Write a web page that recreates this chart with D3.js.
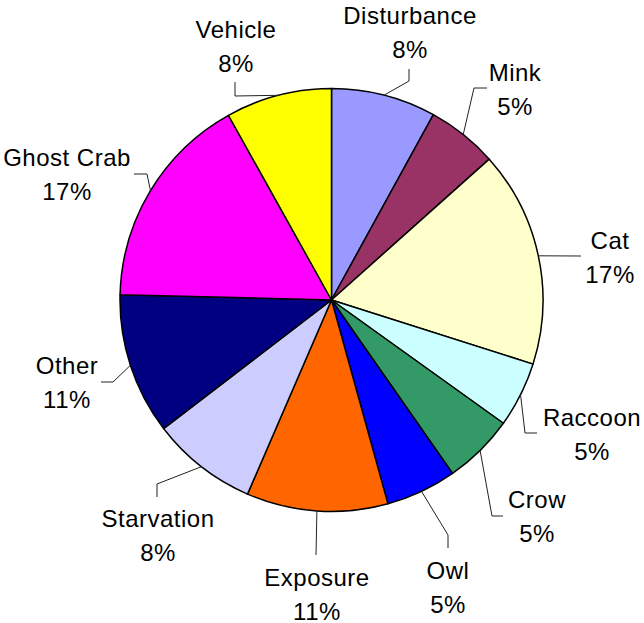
<!DOCTYPE html>
<html>
<head>
<meta charset="utf-8">
<script src="https://cdn.jsdelivr.net/npm/d3@7/dist/d3.min.js"></script>
<style>
  html, body { margin: 0; padding: 0; background: #ffffff; }
  svg { display: block; }
  text { font-family: "Liberation Sans", Arial, sans-serif; font-size: 24px; fill: #000; letter-spacing: 0.5px; }
</style>
</head>
<body>
<svg id="chart" width="644" height="623"></svg>
<script>
// Causes of loss, share of all recorded cases (percent), clockwise from 12 o'clock
const categories = ["Disturbance", "Mink", "Cat", "Raccoon", "Crow", "Owl",
                    "Exposure", "Starvation", "Other", "Ghost Crab", "Vehicle"];
const shares = [8.0, 5.4, 16.5, 5.0, 5.4, 5.4, 10.8, 8.1, 10.8, 16.5, 8.1];
const colors = ["#9999FF", "#993366", "#FFFFCC", "#CCFFFF", "#339966", "#0000FF",
                "#FF6600", "#CCCCFF", "#000080", "#FF00FF", "#FFFF00"];

// Label placement: text centre x, first baseline y, and leader elbow/end points
const labelLayout = [
  { x: 410, y: 24,  leader: [[409, 81], [409, 69]] },
  { x: 515, y: 81,  leader: [[474, 88], [487, 88]] },
  { x: 610, y: 249, leader: [[581, 256]] },
  { x: 592, y: 426, leader: [[525, 433], [537, 433]] },
  { x: 537, y: 508, leader: [[492, 516], [503, 516]] },
  { x: 448, y: 579, leader: [[448, 535], [448, 548]] },
  { x: 317, y: 586, leader: [[316, 555]] },
  { x: 158, y: 527, leader: [[157, 484], [157, 497]] },
  { x: 67,  y: 374, leader: [[113, 382], [101, 382]] },
  { x: 67,  y: 166, leader: [[147, 174], [134, 174]] },
  { x: 236, y: 38,  leader: [[235, 96], [235, 82]] }
];

const cx = 331.5, cy = 300, radius = 211.5;
const lineGap = 33.5;

const svg = d3.select("#chart");
const g = svg.append("g").attr("transform", `translate(${cx},${cy})`);

const pie = d3.pie().sort(null).value(d => d);
const arcs = pie(shares);

const arcGen = d3.arc().innerRadius(0).outerRadius(radius);
const edgeGen = d3.arc().innerRadius(radius).outerRadius(radius);

g.selectAll("path.slice")
  .data(arcs)
  .join("path")
  .attr("class", "slice")
  .attr("d", arcGen)
  .attr("fill", (d, i) => colors[i])
  .attr("stroke", "#000")
  .attr("stroke-width", 1.5)
  .attr("stroke-linejoin", "round");

// Leader lines from each slice's outer edge to its label
const line = d3.line();
svg.selectAll("path.leader")
  .data(arcs)
  .join("path")
  .attr("class", "leader")
  .attr("d", (d, i) => {
    const [ex, ey] = edgeGen.centroid(d);
    return line([[cx + ex, cy + ey], ...labelLayout[i].leader]);
  })
  .attr("fill", "none")
  .attr("stroke", "#222")
  .attr("stroke-width", 1);

// Two-line labels: category name and rounded percentage
const labels = svg.selectAll("text.label")
  .data(arcs)
  .join("text")
  .attr("class", "label")
  .attr("text-anchor", "middle");

labels.append("tspan")
  .attr("x", (d, i) => labelLayout[i].x)
  .attr("y", (d, i) => labelLayout[i].y)
  .text((d, i) => categories[i]);

labels.append("tspan")
  .attr("x", (d, i) => labelLayout[i].x)
  .attr("y", (d, i) => labelLayout[i].y + lineGap)
  .text(d => Math.round(d.data) + "%");
</script>
</body>
</html>
